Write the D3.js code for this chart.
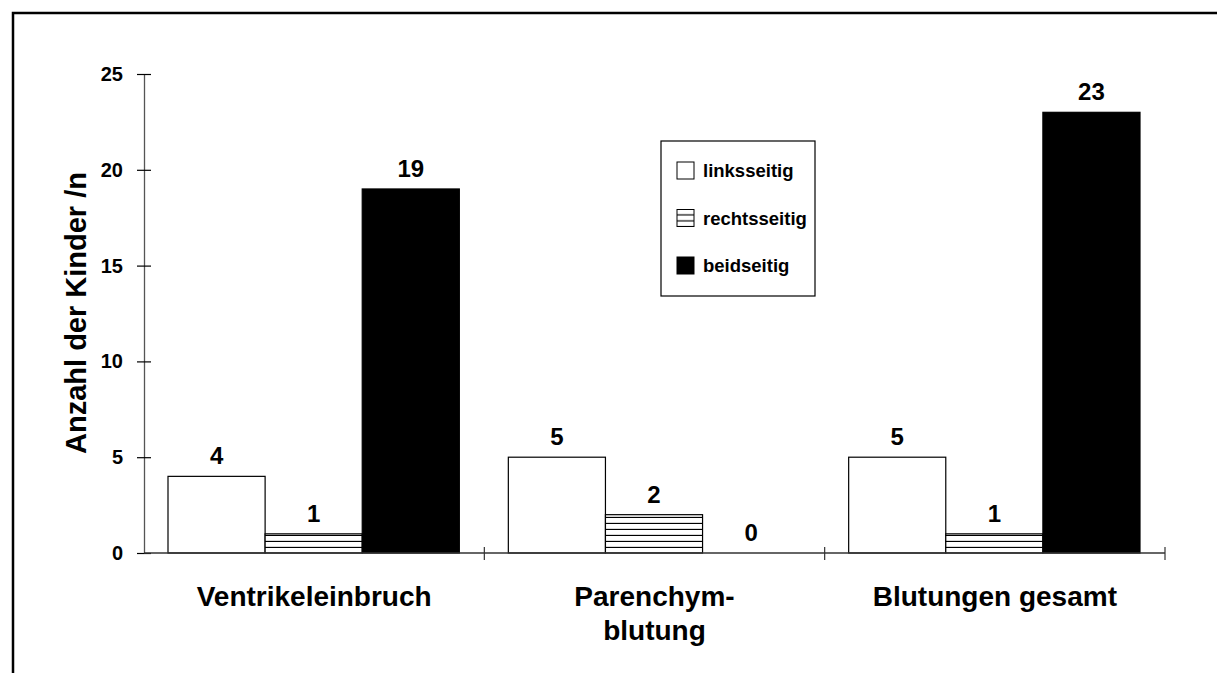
<!DOCTYPE html>
<html>
<head>
<meta charset="utf-8">
<script src="https://cdn.jsdelivr.net/npm/d3@7"></script>
<style>
  body { margin: 0; background: #fff; }
  text { font-family: "Liberation Sans", Arial, sans-serif; font-weight: bold; fill: #000; }
</style>
</head>
<body>
<div id="chart"></div>
<script>
// categories (multi-line labels split on "|")
const categories = ["Ventrikeleinbruch", "Parenchym-|blutung", "Blutungen gesamt"];
const seriesNames = ["linksseitig", "rechtsseitig", "beidseitig"];
const linksseitig = [4, 5, 5];
const rechtsseitig = [1, 2, 1];
const beidseitig = [19, 0, 23];
const yTicks = [0, 5, 10, 15, 20, 25];
const yTitle = "Anzahl der Kinder /n";

const width = 1217;
const height = 673;
const margin = { top: 74, left: 144, right: 52, bottom: 120 };
const plotW = width - margin.left - margin.right;
const plotH = height - margin.top - margin.bottom;

const svg = d3.select("#chart").append("svg")
    .attr("width", width)
    .attr("height", height);

const defs = svg.append("defs");
const stripes = defs.append("pattern")
    .attr("id", "stripes")
    .attr("patternUnits", "userSpaceOnUse")
    .attr("width", 8)
    .attr("height", 6);
stripes.append("rect").attr("width", 8).attr("height", 6).attr("fill", "#fff");
stripes.append("line")
    .attr("x1", 0).attr("x2", 8)
    .attr("y1", 5.5).attr("y2", 5.5)
    .attr("stroke", "#000")
    .attr("stroke-width", 1.3);

// outer frame (cut off at the right and bottom)
svg.append("rect")
    .attr("x", 13).attr("y", 13)
    .attr("width", width + 20).attr("height", height + 20)
    .attr("fill", "none")
    .attr("stroke", "#000")
    .attr("stroke-width", 2.5);

const g = svg.append("g")
    .attr("transform", "translate(" + margin.left + "," + margin.top + ")");

const x0 = d3.scaleBand().domain(categories).range([0, plotW]).paddingInner(0).paddingOuter(0);
const x1 = d3.scaleBand().domain(seriesNames).range([24, x0.bandwidth() - 25]);
const y = d3.scaleLinear().domain([0, 25]).range([plotH, 0]);

const fills = { linksseitig: "#fff", rechtsseitig: "url(#stripes)", beidseitig: "#000" };
const rows = categories.map((c, i) => ({
    cat: c,
    vals: [
        { key: "linksseitig", v: linksseitig[i] },
        { key: "rechtsseitig", v: rechtsseitig[i] },
        { key: "beidseitig", v: beidseitig[i] }
    ]
}));

const groups = g.selectAll(".grp")
    .data(rows)
    .enter().append("g")
    .attr("class", "grp")
    .attr("transform", d => "translate(" + x0(d.cat) + ",0)");

groups.selectAll("rect")
    .data(d => d.vals.filter(v => v.v > 0))
    .enter().append("rect")
    .attr("x", d => x1(d.key))
    .attr("y", d => y(d.v))
    .attr("width", x1.bandwidth())
    .attr("height", d => plotH - y(d.v))
    .attr("fill", d => fills[d.key])
    .attr("stroke", "#000")
    .attr("stroke-width", 1.2);

groups.selectAll(".val")
    .data(d => d.vals)
    .enter().append("text")
    .attr("class", "val")
    .attr("x", d => x1(d.key) + x1.bandwidth() / 2)
    .attr("y", d => y(d.v) - 12)
    .attr("text-anchor", "middle")
    .style("font-size", "24px")
    .text(d => d.v);

// y axis
const yAxis = g.append("g")
    .call(d3.axisLeft(y).tickValues(yTicks).tickSize(0).tickPadding(21));
yAxis.select(".domain").attr("stroke", "#555").attr("stroke-width", 1.3);
yAxis.selectAll("text").style("font-size", "20px");
yAxis.selectAll(".tick").append("line")
    .attr("x1", -7).attr("x2", 7)
    .attr("stroke", "#000").attr("stroke-width", 1.2);

// x axis
const xAxis = g.append("g")
    .attr("transform", "translate(0," + plotH + ")");
xAxis.append("line")
    .attr("x1", 0).attr("x2", plotW)
    .attr("stroke", "#333").attr("stroke-width", 1.5);
xAxis.selectAll(".xt")
    .data(categories)
    .enter().append("line")
    .attr("class", "xt")
    .attr("x1", d => x0(d) + x0.bandwidth()).attr("x2", d => x0(d) + x0.bandwidth())
    .attr("y1", -6).attr("y2", 7)
    .attr("stroke", "#333").attr("stroke-width", 1.2);

xAxis.selectAll(".cat")
    .data(categories)
    .enter().append("text")
    .attr("class", "cat")
    .attr("text-anchor", "middle")
    .attr("transform", d => "translate(" + (x0(d) + x0.bandwidth() / 2) + ",53)")
    .style("font-size", "28px")
    .each(function (d) {
        d.split("|").forEach((line, i) => {
            d3.select(this).append("tspan")
                .attr("x", 0)
                .attr("dy", i === 0 ? 0 : 34)
                .text(line);
        });
    });

// y title
svg.append("text")
    .attr("transform", "translate(86,313) rotate(-90)")
    .attr("text-anchor", "middle")
    .style("font-size", "29px")
    .text(yTitle);

// legend
const legend = svg.append("g").attr("transform", "translate(661,141)");
legend.append("rect")
    .attr("width", 154).attr("height", 155)
    .attr("fill", "#fff")
    .attr("stroke", "#000").attr("stroke-width", 1.2);
const items = legend.selectAll(".li")
    .data(seriesNames)
    .enter().append("g")
    .attr("class", "li")
    .attr("transform", (d, i) => "translate(16," + (21 + i * 47.5) + ")");
items.append("rect")
    .attr("width", 17).attr("height", 17)
    .attr("fill", d => fills[d])
    .attr("stroke", "#000").attr("stroke-width", 1);
items.append("text")
    .attr("x", 26).attr("y", 15)
    .style("font-size", "18.5px")
    .text(d => d);
</script>
</body>
</html>
